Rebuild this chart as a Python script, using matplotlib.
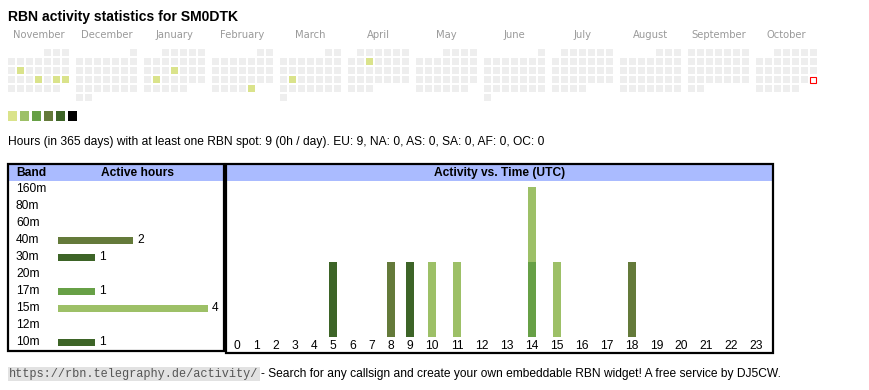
import calendar
import datetime as dt

import matplotlib
matplotlib.use('Agg')
import matplotlib.pyplot as plt
from matplotlib.patches import Rectangle
import numpy as np

W, H = 870, 390

callsign = 'SM0DTK'
months = [(2024, 11), (2024, 12), (2025, 1), (2025, 2), (2025, 3), (2025, 4),
          (2025, 5), (2025, 6), (2025, 7), (2025, 8), (2025, 9), (2025, 10)]
active_days = ['2024-11-12', '2024-11-21', '2024-11-23', '2024-11-24', '2025-01-16',
               '2025-01-21', '2025-02-28', '2025-03-18', '2025-04-09']
active_levels = [1, 1, 1, 1, 1, 1, 1, 1, 1]
today = '2025-10-26'
level_colors = ['#dae38b', '#9dc067', '#67a046', '#647a3a', '#3d6427', '#000000']

bands = ['160m', '80m', '60m', '40m', '30m', '20m', '17m', '15m', '12m', '10m']
band_hours = [0, 0, 0, 2, 1, 0, 1, 4, 0, 1]
band_colors = ['#9dc067', '#9dc067', '#9dc067', '#647a3a', '#3d6427',
               '#67a046', '#67a046', '#9dc067', '#647a3a', '#3d6427']

hours = list(range(24))
hours_by_band = {'40m': [8, 18], '30m': [5], '17m': [14], '15m': [10, 11, 14, 15], '10m': [9]}

total_hours = 9
regions = ['EU', 'NA', 'AS', 'SA', 'AF', 'OC']
region_hours = [9, 0, 0, 0, 0, 0]

HEADER_BLUE = '#aabbff'
SANS = 'Liberation Sans'
FS = 8.65

fig = plt.figure(figsize=(W / 100, H / 100), dpi=100)


def px_axes(x0, y0, x1, y1):
    return fig.add_axes([x0 / W, 1 - y1 / H, (x1 - x0) / W, (y1 - y0) / H])


ax = fig.add_axes([0, 0, 1, 1])
ax.set_xlim(0, W)
ax.set_ylim(H, 0)
ax.axis('off')

ax.text(8, 17, f'RBN activity statistics for {callsign}', fontsize=10.1,
        fontweight='bold', family=SANS, va='center')

# calendar, one 7-wide block per month, weeks start on Monday
level_of = {dt.date.fromisoformat(d): lv for d, lv in zip(active_days, active_levels)}
today_d = dt.date.fromisoformat(today)
cell, pitch, block = 7, 9, 68
for mi, (yy, mm) in enumerate(months):
    first_wd, ndays = calendar.monthrange(yy, mm)
    x0 = 8 + mi * block
    ax.text(x0 + (6 * pitch + cell) / 2, 35, calendar.month_name[mm], fontsize=7.2,
            color='#9a9a9a', ha='center', va='center', family='DejaVu Sans')
    for d in range(1, ndays + 1):
        row, col = divmod(first_wd + d - 1, 7)
        day = dt.date(yy, mm, d)
        if day == today_d:
            ax.add_patch(Rectangle((x0 + col * pitch + 0.5, 49 + row * pitch + 0.5),
                                   cell - 1, cell - 1, fill=False, ec='red', lw=0.8))
            continue
        fc = level_colors[level_of[day] - 1] if day in level_of else '#eeeeee'
        ax.add_patch(Rectangle((x0 + col * pitch, 49 + row * pitch), cell, cell,
                               fc=fc, ec='none'))

for i, c in enumerate(level_colors):
    ax.add_patch(Rectangle((8 + i * 12, 111), 9.5, 9.5, fc=c, ec='none'))

summary = (f'Hours (in 365 days) with at least one RBN spot: {total_hours} '
           f'({total_hours // 365}h / day). '
           + ', '.join(f'{r}: {v}' for r, v in zip(regions, region_hours)))
ax.text(8, 142, summary, fontsize=FS, family=SANS, va='center')

# frames and header strips
for (x0, x1, y1) in [(8, 224.5, 351), (226.5, 773, 353)]:
    ax.add_patch(Rectangle((x0 + 1, 165), x1 - x0 - 2, 16, fc=HEADER_BLUE, ec='none'))
    ax.add_patch(Rectangle((x0, 164), x1 - x0, y1 - 164, fill=False, ec='black', lw=1.6))
ax.text(16, 173, 'Band', fontsize=FS, fontweight='bold', family=SANS, va='center')
ax.text(138, 173, 'Active hours', fontsize=FS, fontweight='bold', family=SANS,
        va='center', ha='center')
ax.text(500, 173, 'Activity vs. Time (UTC)', fontsize=FS, fontweight='bold',
        family=SANS, va='center', ha='center')

# band table: 37.5 px per hour, 17 px per row
axb = px_axes(10, 182, 222, 350)
unit, row_h, bar_x0, row0 = 37.5, 17, 58, 189
axb.set_xlim((10 - bar_x0) / unit, (222 - bar_x0) / unit)
axb.set_ylim((350 - row0) / row_h, (182 - row0) / row_h)
axb.axis('off')
ypos = np.arange(len(bands))
axb.barh(ypos, band_hours, height=7 / row_h, color=band_colors)
for y, b, v in zip(ypos, bands, band_hours):
    axb.text((16 - bar_x0) / unit, y, b, fontsize=FS, family=SANS, va='center')
    if v > 0:
        axb.text(v + 4 / unit, y, str(v), fontsize=FS, family=SANS, va='center')

# activity vs time, stacked by band; column widths follow label widths
labels = [str(h) for h in hours]
widths = np.array([13.6 + 5.65 * len(s) for s in labels])
centers = 227.4 + np.cumsum(widths) - widths / 2
axh = px_axes(228, 182, 771, 351)
base_y, y_unit = 337, 75
axh.set_xlim(228, 771)
axh.set_ylim((base_y - 351) / y_unit, (base_y - 182) / y_unit)
axh.axis('off')
bottom = np.zeros(len(hours))
for b, c in zip(bands, band_colors):
    counts = np.zeros(len(hours))
    for h in hours_by_band.get(b, []):
        counts[h] += 1
    if counts.any():
        axh.bar(centers, counts, width=8, bottom=bottom, color=c)
        bottom += counts
for x, s in zip(centers, labels):
    axh.text(x, (base_y - 346) / y_unit, s, fontsize=FS, family=SANS,
             ha='center', va='center')

# footer
url = ax.text(9, 374, 'https://rbn.telegraphy.de/activity/', fontsize=8.6,
              family='Liberation Mono', color='#555555', va='center',
              bbox=dict(boxstyle='square,pad=0.12', fc='#e2e2e2', ec='none'))
fig.canvas.draw()
bb = url.get_window_extent()
x_end = ax.transData.inverted().transform((bb.x1, bb.y0))[0]
ax.text(x_end + 3, 374, '- Search for any callsign and create your own embeddable RBN '
        'widget! A free service by DJ5CW.', fontsize=FS, family=SANS, va='center')

fig.savefig('out.png', dpi=100)
